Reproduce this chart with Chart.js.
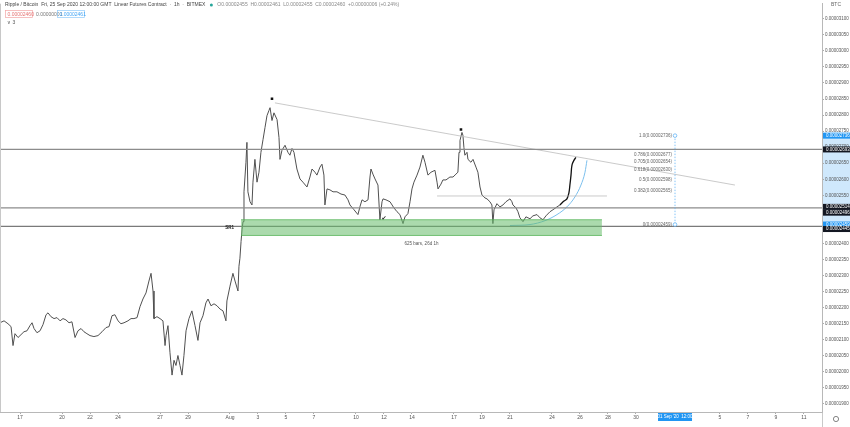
<!DOCTYPE html>
<html><head><meta charset="utf-8">
<script src="https://cdn.jsdelivr.net/npm/chart.js@4.4.1/dist/chart.umd.min.js"></script>
<style>html,body{margin:0;padding:0;background:#fff;overflow:hidden}#wrap{width:850px;height:427px;position:relative}canvas{display:block}</style>
</head><body><div id="wrap"><canvas id="c" width="850" height="427" style="width:850px;height:427px"></canvas></div>
<script>
// ---- data (x = days since 1 Jul 2020, y = price in satoshi, 1e-8 BTC) ----
const priceDays = [14.57,14.86,15.14,15.36,15.50,15.64,15.86,16.07,16.28,16.50,16.71,16.86,17.00,17.21,17.43,17.64,17.86,18.00,18.21,18.43,18.64,18.86,19.07,19.28,19.50,19.71,19.93,20.14,20.36,20.57,20.78,21.00,21.28,21.57,21.86,22.14,22.36,22.57,22.78,23.00,23.21,23.43,23.71,23.93,24.14,24.36,24.57,24.78,25.00,25.21,25.36,25.50,25.57,25.78,26.00,26.21,26.36,26.43,26.57,26.71,26.86,27.00,27.14,27.28,27.43,27.57,27.71,27.86,28.07,28.28,28.50,28.71,28.86,29.07,29.28,29.43,29.64,29.86,30.07,30.28,30.50,30.71,30.78,31.00,31.21,31.36,31.57,31.64,31.71,31.79,31.86,31.93,32.00,32.14,32.21,32.28,32.43,32.57,32.64,32.78,32.93,33.07,33.21,33.36,33.50,33.64,33.78,33.86,34.00,34.14,34.36,34.50,34.57,34.71,34.93,35.14,35.28,35.43,35.57,35.78,36.00,36.21,36.50,36.71,36.86,37.07,37.21,37.43,37.57,37.71,37.78,37.93,38.14,38.36,38.64,38.93,39.21,39.43,39.57,39.86,40.14,40.28,40.43,40.64,40.86,41.00,41.07,41.21,41.36,41.57,41.71,41.86,41.93,42.14,42.43,42.71,42.93,43.14,43.36,43.50,43.71,43.86,44.00,44.14,44.36,44.57,44.78,44.93,45.14,45.36,45.64,45.79,45.86,46.07,46.21,46.43,46.71,46.93,47.14,47.28,47.36,47.43,47.57,47.64,47.71,47.78,47.93,48.00,48.21,48.36,48.57,48.71,48.86,49.00,49.21,49.36,49.57,49.71,49.78,49.86,50.07,50.28,50.50,50.71,51.00,51.14,51.21,51.43,51.57,51.71,51.93,52.14,52.43,52.64,52.93,53.14,53.36,53.57,53.86,54.07,54.36,54.57];
const priceSats = [2153,2159,2150,2141,2082,2119,2107,2116,2125,2128,2144,2153,2135,2122,2128,2147,2178,2184,2172,2166,2169,2159,2166,2162,2153,2156,2107,2128,2135,2125,2119,2113,2110,2113,2125,2138,2141,2175,2178,2159,2150,2153,2159,2166,2166,2169,2203,2227,2246,2283,2307,2252,2166,2172,2166,2159,2082,2113,2144,2061,1990,2036,2020,2051,2020,1990,2051,2128,2166,2190,2144,2098,2153,2175,2215,2227,2206,2212,2206,2196,2190,2159,2221,2267,2307,2283,2252,2329,2354,2406,2443,2468,2561,2653,2715,2561,2530,2520,2591,2662,2591,2622,2684,2724,2761,2798,2814,2823,2783,2807,2786,2730,2662,2690,2706,2684,2675,2696,2684,2632,2601,2591,2576,2607,2632,2622,2613,2638,2647,2613,2520,2570,2567,2561,2561,2554,2551,2536,2520,2505,2490,2514,2536,2530,2536,2607,2632,2616,2601,2582,2474,2530,2539,2536,2530,2511,2499,2490,2462,2483,2493,2530,2570,2591,2613,2638,2675,2653,2613,2622,2628,2591,2570,2585,2598,2598,2607,2607,2616,2622,2684,2721,2746,2737,2699,2675,2684,2662,2653,2662,2638,2622,2576,2551,2542,2539,2530,2520,2462,2505,2524,2514,2520,2530,2539,2530,2520,2511,2499,2480,2468,2483,2477,2486,2490,2480,2474,2486,2499,2505,2514,2520];
const projDays = [54.57,54.86,55.07,55.21,55.28,55.36,55.43,55.57,55.71];
const projSats = [2520,2532,2539,2558,2582,2613,2644,2659,2668];
const arcDays = [51.00,52.43,53.50,54.36,55.07,55.64,56.07,56.36,56.50];
const arcSats = [2456,2459,2471,2490,2514,2545,2582,2622,2659];
const trendDays = [34.21,67.07];
const trendSats = [2838,2582];
const levelSats = [2693,2511,2453];
const zoneDays = [31.79,57.57];
const zoneSats = [2425,2474];
const segDays = [45.79,57.93];
const segSats = [2548,2548];
const peakDays = [34.00,47.50];
const peakSats = [2851,2755];
const checkDay = 42.0, checkSat = 2474;
const fibDay = 62.79;
const fibRatios = [1,0.786,0.705,0.618,0.5,0.382,0];
const fibHigh = 2736, fibLow = 2459;
const axisTagSats = [2736,2693,2514,2496,2459,2445];
const axisTagKinds = ['b','k','k','k','b','k'];
const yTickSats = [1900,1950,2000,2050,2100,2150,2200,2250,2300,2350,2400,2450,2500,2550,2600,2650,2700,2750,2800,2850,2900,2950,3000,3050,3100];
const xTickDays = [16,19,21,23,26,28,31,33,35,37,40,42,44,47,49,51,54,56,58,60,66,68,70,72];
const xTickLabels = ['17','20','22','24','27','29','Aug','3','5','7','10','12','14','17','19','21','24','26','28','30','5','7','9','11'];
const xMin = 14.57, xMax = 73.29, yMin = 1875, yMax = 3147;

const pts = (xs, ys) => xs.map((d,i)=>({x:d,y:ys[i]}));
const fmt = v => (v/1e8).toFixed(8);
const FONT = '"Liberation Sans", Arial, sans-serif';

const overlay = {
  id:'overlay',
  beforeDraw(chart){
    const {ctx, scales:{y}} = chart;
    ctx.save();
    ctx.fillStyle = '#fff'; ctx.fillRect(0,0,chart.width,chart.height);
    const a = y.getPixelForValue(fibHigh), b = y.getPixelForValue(fibLow);
    ctx.fillStyle = 'rgba(187,222,251,0.7)';
    ctx.fillRect(y.left, a, y.right-y.left, b-a);
    ctx.restore();
  },
  afterDraw(chart){
    const {ctx, scales:{x,y}, chartArea:ca} = chart;
    ctx.save();
    ctx.textBaseline = 'middle';
    // left border
    ctx.strokeStyle = '#c8c8c8'; ctx.lineWidth = 1;
    ctx.beginPath(); ctx.moveTo(0.5, ca.top); ctx.lineTo(0.5, ca.bottom); ctx.stroke();
    // header
    ctx.font = '5px ' + FONT; ctx.fillStyle = '#444'; ctx.textAlign = 'left';
    const h1 = 'Ripple / Bitcoin  Fri, 25 Sep 2020 12:00:00 GMT  Linear Futures Contract  ·  1h  ·  BITMEX';
    ctx.fillText(h1, 5, 5);
    let hx = 5 + ctx.measureText(h1).width + 6;
    ctx.fillStyle = '#26a69a'; ctx.beginPath(); ctx.arc(hx, 5, 1.5, 0, Math.PI*2); ctx.fill();
    ctx.fillStyle = '#888';
    ctx.fillText('O0.00002455  H0.00002461  L0.00002455  C0.00002460  +0.00000006 (+0.24%)', hx+6, 5);
    ctx.strokeStyle = '#f3a5a5'; ctx.lineWidth = 0.7; ctx.strokeRect(5.5,10.5,27,7);
    ctx.fillStyle = '#e57373'; ctx.fillText('0.00002460', 7.5, 14.2);
    ctx.fillStyle = '#777'; ctx.fillText('0.00000001', 36, 14.2);
    ctx.strokeStyle = '#90caf9'; ctx.strokeRect(57.5,10.5,27,7);
    ctx.fillStyle = '#42a5f5'; ctx.fillText('0.00002461', 59.5, 14.2);
    ctx.fillStyle = '#555'; ctx.fillText('∨ 3', 7, 23);
    // axis currency
    ctx.textAlign = 'center'; ctx.fillStyle = '#666'; ctx.fillText('BTC', 836, 5);
    // fib labels
    ctx.font = '4.5px ' + FONT; ctx.textAlign = 'right'; ctx.fillStyle = '#666';
    const fx = x.getPixelForValue(fibDay);
    fibRatios.forEach(r => {
      const v = fibLow + r*(fibHigh-fibLow);
      ctx.fillText((r===1?'1.0':String(r)) + '(' + fmt(v) + ')', fx-3, y.getPixelForValue(v));
    });
    // fib dotted vertical
    ctx.setLineDash([1.5,1.5]); ctx.strokeStyle = '#64b5f6'; ctx.lineWidth = 0.8;
    ctx.beginPath(); ctx.moveTo(fx, y.getPixelForValue(fibHigh)); ctx.lineTo(fx, y.getPixelForValue(fibLow)); ctx.stroke();
    ctx.setLineDash([]);
    [fibHigh, fibLow].forEach(v=>{ctx.fillStyle='#fff';ctx.beginPath();ctx.arc(fx,y.getPixelForValue(v),1.8,0,Math.PI*2);ctx.fill();ctx.stroke();});
    // checkmark, SR1, bars text
    ctx.font = 'bold 6px "DejaVu Sans", sans-serif'; ctx.textAlign='center'; ctx.fillStyle = '#222';
    ctx.fillText('✔', x.getPixelForValue(checkDay), y.getPixelForValue(checkSat)-1);
    ctx.font = 'bold 4.5px ' + FONT; ctx.textAlign='right';
    ctx.fillText('SR1', x.getPixelForValue(zoneDays[0])-7, y.getPixelForValue(2449));
    ctx.font = '4.5px ' + FONT; ctx.textAlign='center'; ctx.fillStyle='#555';
    ctx.fillText('625 bars, 26d 1h', x.getPixelForValue((zoneDays[0]+zoneDays[1])/2), y.getPixelForValue(2400));
    // axis tags
    ctx.font = '4.5px ' + FONT; ctx.textAlign='left';
    axisTagSats.forEach((v,i)=>{
      const py = y.getPixelForValue(v);
      ctx.fillStyle = axisTagKinds[i]==='b' ? '#2196f3' : '#131722';
      ctx.fillRect(y.left+1, py-3, 27, 6);
      ctx.fillStyle = '#fff'; ctx.fillText(fmt(v), y.left+4, py+0.2);
    });
    // date tag
    const dx = x.getPixelForValue(fibDay);
    ctx.fillStyle = '#2196f3'; ctx.fillRect(dx-17, x.top+1, 34, 8);
    ctx.fillStyle = '#fff'; ctx.textAlign='center'; ctx.fillText("01 Sep '20  12:00", dx, x.top+5.2);
    // gear
    ctx.strokeStyle = '#666'; ctx.lineWidth = 0.8;
    ctx.beginPath(); ctx.arc(836, 419, 2.6, 0, Math.PI*2); ctx.stroke();
    ctx.beginPath(); ctx.moveTo(822.5, 412); ctx.lineTo(822.5, 427); ctx.strokeStyle='#bbb'; ctx.stroke();
    ctx.restore();
  }
};

const hl = v => [{x:xMin,y:v},{x:xMax,y:v}];
const lineDs = (data, color, width, extra) => Object.assign({data, borderColor:color, borderWidth:width, pointRadius:0, pointHoverRadius:0, fill:false, tension:0}, extra||{});

new Chart(document.getElementById('c'), {
  type:'line',
  data:{ datasets:[
    lineDs(pts(zoneDays,[zoneSats[0],zoneSats[0]]), 'rgba(76,175,80,0.9)', 0.8),
    lineDs(pts(zoneDays,[zoneSats[1],zoneSats[1]]), 'rgba(76,175,80,0.9)', 0.8, {fill:'-1', backgroundColor:'rgba(102,187,106,0.55)'}),
    lineDs(hl(levelSats[0]), '#8c8c8c', 1.3),
    lineDs(hl(levelSats[1]), '#8c8c8c', 1.3),
    lineDs(hl(levelSats[2]), '#7a7a7a', 1.3),
    lineDs(pts(trendDays,trendSats), '#bdbdbd', 0.8),
    lineDs(pts(segDays,segSats), '#b5b5b5', 0.7),
    lineDs(pts(arcDays,arcSats), '#7cc0ee', 1, {tension:0.4, cubicInterpolationMode:'monotone'}),
    lineDs(pts(priceDays,priceSats), '#505050', 1),
    lineDs(pts(projDays,projSats), '#111', 1.3, {tension:0.4}),
    {type:'scatter', data:pts(peakDays,peakSats), pointStyle:'rect', pointRadius:1.8, pointHoverRadius:1.8, backgroundColor:'#111', borderColor:'#111', borderWidth:0}
  ]},
  options:{
    responsive:false, animation:false, devicePixelRatio:1,
    layout:{padding:0, autoPadding:false},
    plugins:{legend:{display:false}, tooltip:{enabled:false}},
    scales:{
      x:{type:'linear', min:xMin, max:xMax,
         afterBuildTicks:s=>{s.ticks = xTickDays.map(v=>({value:v}));},
         afterFit:s=>{s.height = 15;},
         ticks:{autoSkip:false, maxRotation:0, padding:1, font:{size:5, family:FONT}, color:'#555',
                callback:(v)=>{const i = xTickDays.indexOf(v); return i>=0 ? xTickLabels[i] : '';}},
         grid:{drawOnChartArea:false, drawTicks:true, tickLength:2, color:'#aaa'},
         border:{display:true, color:'#b8b8b8'}},
      y:{type:'linear', position:'right', min:yMin, max:yMax,
         afterBuildTicks:s=>{s.ticks = yTickSats.map(v=>({value:v}));},
         afterFit:s=>{s.width = 28;},
         ticks:{autoSkip:false, padding:1, font:{size:4.5, family:FONT}, color:'#555', callback:v=>fmt(v)},
         grid:{drawOnChartArea:false, drawTicks:true, tickLength:2, color:'#aaa'},
         border:{display:true, color:'#b8b8b8'}}
    }
  },
  plugins:[overlay]
});
</script>
</body></html>
